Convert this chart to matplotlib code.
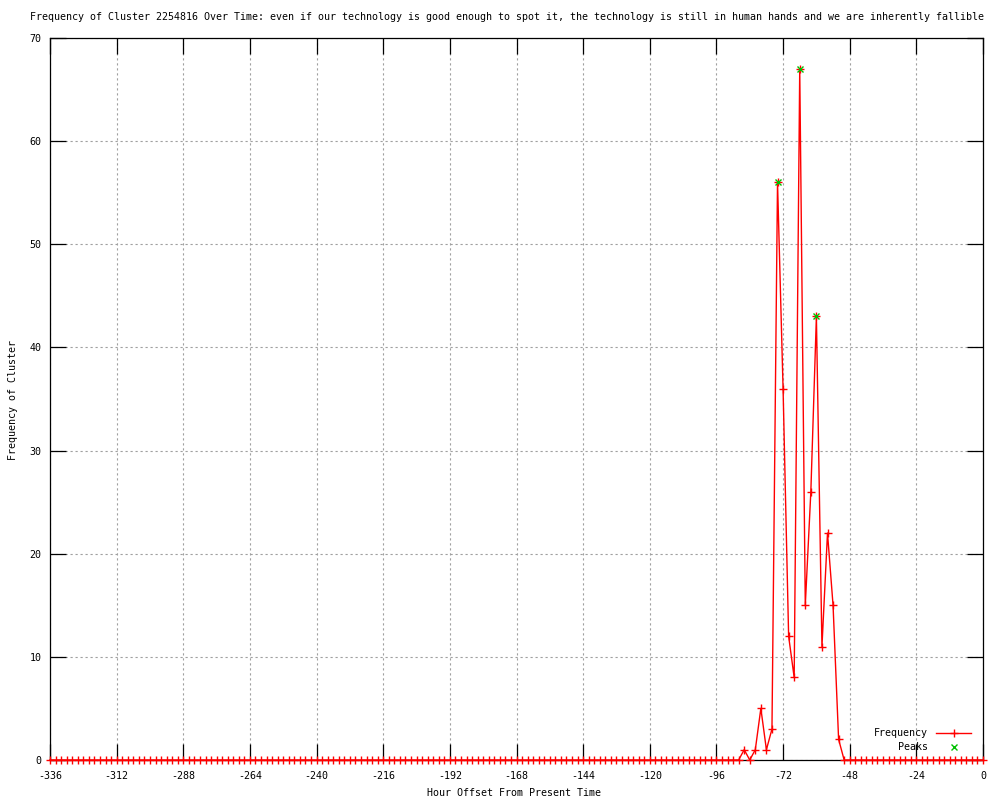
import matplotlib
matplotlib.use("Agg")
import matplotlib.pyplot as plt
from matplotlib.lines import Line2D

# Hour offsets (every 2 hours from -336 to 0)
hours = list(range(-336, 1, 2))
# Frequency values
frequency = ([0] * 125 +
             [1, 0, 1, 5, 1, 3, 56, 36, 12, 8, 67, 15, 26, 43, 11, 22, 15, 2] +
             [0] * 26)
peak_hours = [-74, -66, -60]
peak_values = [56, 67, 43]

title = ("Frequency of Cluster 2254816 Over Time: even if our technology is good enough "
         "to spot it, the technology is still in human hands and we are inherently fallible")
xticks = list(range(-336, 1, 24))
yticks = list(range(0, 71, 10))

plt.rcParams['font.family'] = ['DejaVu Sans Mono']
FS = 7.2
W, H = 1000, 800

fig = plt.figure(figsize=(10, 8), dpi=100)
ax = fig.add_axes([50 / W, 1 - 760 / H, 933 / W, 722 / H])

ax.plot(hours, frequency, color='#ff0000', lw=1.0, marker='+', markersize=6,
        markeredgewidth=1.0, label='Frequency', zorder=3, clip_on=False)
ax.plot(peak_hours, peak_values, linestyle='none', color='#00c000', marker='x',
        markersize=5, markeredgewidth=1.0, label='Peaks', zorder=4, clip_on=False)

ax.set_xlim(-336, 0)
ax.set_ylim(0, 70)
ax.set_xticks(xticks)
ax.set_yticks(yticks)
ax.set_xticklabels([str(t) for t in xticks], fontsize=FS)
ax.set_yticklabels([str(t) for t in yticks], fontsize=FS)
ax.tick_params(direction='in', length=11.5, width=0.9, top=True, right=True, pad=6, colors='black')
ax.tick_params(axis='x', pad=8)
ax.grid(True, color='#a0a0a0', linestyle=(0, (2, 2.5)), linewidth=0.8)
ax.set_axisbelow(True)
for s in ax.spines.values():
    s.set_linewidth(0.9)
    s.set_color('black')
    s.set_zorder(2.5)

fig.text(507 / W, 1 - 17 / H, title, fontsize=FS, ha='center', va='center')
fig.text(514 / W, 1 - 793 / H, 'Hour Offset From Present Time', fontsize=FS, ha='center', va='center')
fig.text(13 / W, 1 - 400 / H, 'Frequency of Cluster', fontsize=FS, ha='center', va='center',
         rotation=90)

handles = [Line2D([], [], color='#ff0000', lw=1.0, marker='+', markersize=6),
           Line2D([], [], color='#00c000', linestyle='none', marker='x', markersize=5)]
leg = ax.legend(handles, ['Frequency', 'Peaks'], loc='lower right', fontsize=FS,
                frameon=False, markerfirst=False, handlelength=3.5,
                bbox_to_anchor=(971 / W, 1 - 752 / H), bbox_transform=fig.transFigure,
                borderaxespad=0, borderpad=0, labelspacing=0.35, handletextpad=0.8)

fig.savefig('out.png', dpi=100)
